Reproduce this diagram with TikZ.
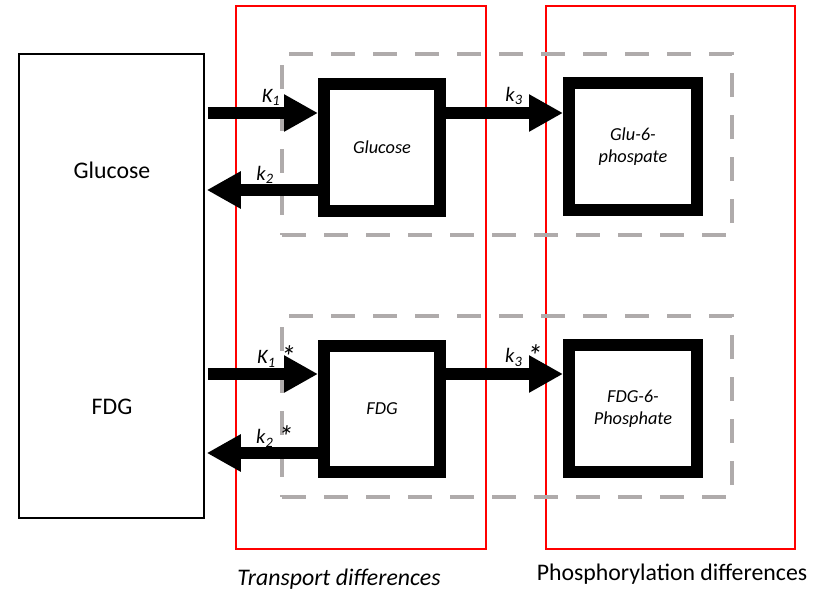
\documentclass[tikz,border=0pt]{standalone}
\usepackage{fontspec}
\setmainfont{Carlito}
\usetikzlibrary{arrows.meta}
\definecolor{dashgray}{RGB}{175,171,171}
\definecolor{regred}{RGB}{255,0,0}
\newcommand{\bigast}{\raisebox{-4pt}{\scalebox{1.5}{*}}}
\begin{document}
\begin{tikzpicture}[x=1pt,y=-1pt,
  thickbox/.style={draw=black, line width=12pt, inner sep=0pt, align=center,
    font=\itshape\fontsize{18.3}{22}\selectfont},
  srcbox/.style={draw=black, line width=1.5pt, inner sep=0pt},
  regbox/.style={draw=regred, line width=2pt, inner sep=0pt},
  grpbox/.style={draw=dashgray, line width=4.5pt, inner sep=0pt, dash pattern=on 24pt off 18pt},
  bigarrow/.style={line width=12pt, -{Triangle[length=34pt,width=35pt]}},
  klabel/.style={font=\itshape\fontsize{20.5}{24}\selectfont, inner sep=0pt},
  plain/.style={font=\fontsize{23.8}{27}\selectfont, inner sep=0pt}]
\useasboundingbox (0,0) rectangle (813,595);

% region boxes
\node[regbox, minimum width=250, minimum height=543] (regT) at (361,277.5) {};
\node[regbox, minimum width=249, minimum height=543] (regP) at (670.5,277.5) {};

% grouping dashed boxes
\node[grpbox, minimum width=450, minimum height=181] (grpG) at (507,144.5) {};
\node[grpbox, minimum width=450, minimum height=181] (grpF) at (507,406.5) {};

% source box
\node[srcbox, minimum width=185, minimum height=464] (src) at (111.5,286) {};
\node[plain] (srcG) at (112,170) {Glucose};
\node[plain] (srcF) at (112,407) {FDG};

% compartment boxes
\node[thickbox, minimum width=116, minimum height=127] (glc) at (382,147.5) {Glucose};
\node[thickbox, minimum width=128, minimum height=127] (g6p) at (633,146.5) {Glu-6-\\phospate};
\node[thickbox, minimum width=116, minimum height=126] (fdg) at (382,409) {FDG};
\node[thickbox, minimum width=128, minimum height=127] (f6p) at (633,408.5) {FDG-6-\\Phosphate};

% arrows glucose
\draw[bigarrow] ([xshift=3pt]src.east |- 0,113) -- (glc.west |- 0,113);
\draw[bigarrow] (glc.west |- 0,190) -- ([xshift=2pt]src.east |- 0,190);
\draw[bigarrow] (glc.east |- 0,113) -- (g6p.west |- 0,113);
% arrows FDG
\draw[bigarrow] ([xshift=3pt]src.east |- 0,374) -- (fdg.west |- 0,374);
\draw[bigarrow] (fdg.west |- 0,453) -- ([xshift=2pt]src.east |- 0,453);
\draw[bigarrow] (fdg.east |- 0,374) -- (f6p.west |- 0,374);

% rate labels
\node[klabel] (K1) at (271,97) {K\textsubscript{1}};
\node[klabel] (k2) at (265,175) {k\textsubscript{2}};
\node[klabel] (k3) at (514,96) {k\textsubscript{3}};
\node[klabel, anchor=west] (K1s) at (257,357) {K\textsubscript{1} \bigast};
\node[klabel, anchor=west] (k2s) at (256,437) {k\textsubscript{2} \bigast};
\node[klabel, anchor=west] (k3s) at (505,356) {k\textsubscript{3} \bigast};

% bottom captions
\node[plain, font=\itshape\fontsize{23.8}{27}\selectfont] (capT) at (339,579) {Transport differences};
\node[plain] (capP) at (672,574) {Phosphorylation differences};
\end{tikzpicture}
\end{document}
